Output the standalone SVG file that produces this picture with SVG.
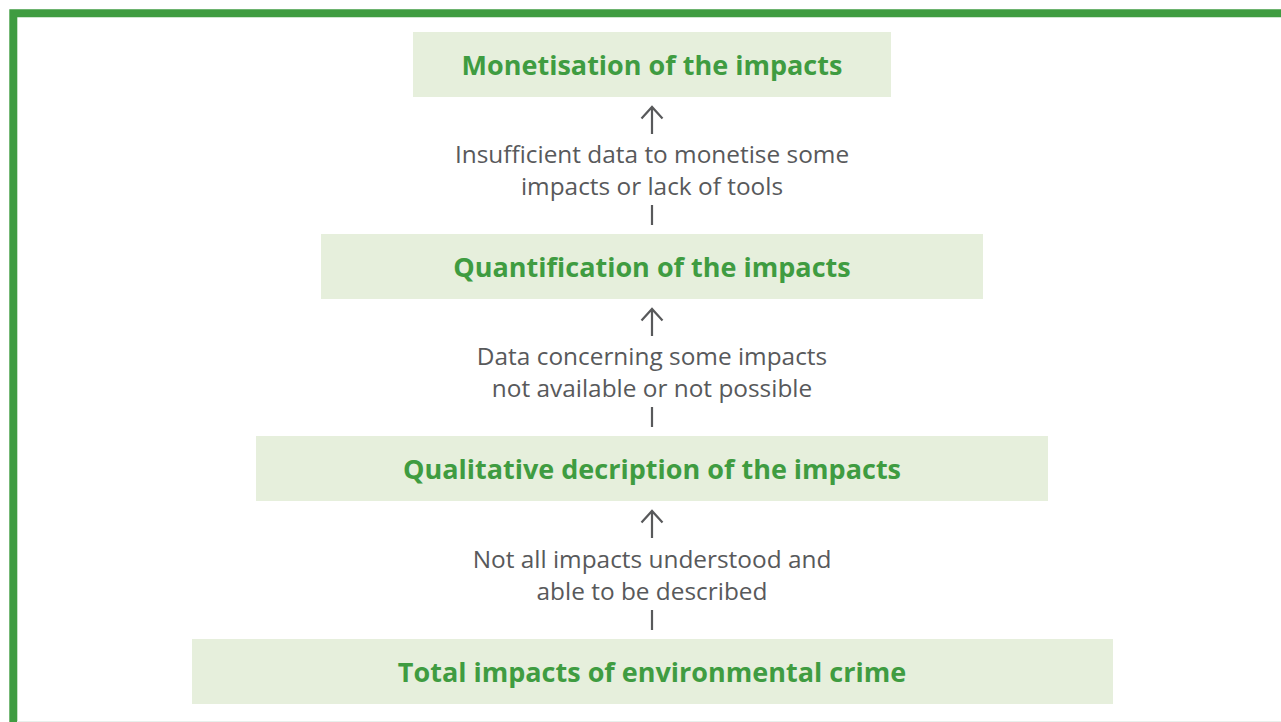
<svg xmlns="http://www.w3.org/2000/svg" width="1281" height="722" viewBox="0 0 1281 722">
<style>
.box{fill:#e6efdc}
.t{font-family:"Open Sans","Noto Sans",sans-serif;font-weight:700;font-size:27px;fill:#3f9c41;text-anchor:middle}
.l{font-family:"Open Sans","Noto Sans",sans-serif;font-size:24.4px;fill:#58595b;text-anchor:middle}
.c{stroke:#58595b;stroke-width:2.2;fill:none}
</style>
<rect x="0" y="0" width="1281" height="722" fill="#ffffff"/>
<path d="M13.3 722 V13.3 H1281" fill="none" stroke="#3f9c41" stroke-width="8"/>
<line x1="17" y1="721.5" x2="1281" y2="721.5" stroke="#e8f0ec" stroke-width="1"/>
<g id="n1"><rect class="box" x="413" y="32" width="478" height="65"/><text class="t" x="652" y="75">Monetisation of the impacts</text></g>
<g id="n2"><rect class="box" x="321" y="234" width="662" height="65"/><text class="t" x="652" y="277">Quantification of the impacts</text></g>
<g id="n3"><rect class="box" x="256" y="436" width="792" height="65"/><text class="t" x="652" y="479">Qualitative decription of the impacts</text></g>
<g id="n4"><rect class="box" x="192" y="639" width="921" height="65"/><text class="t" x="652" y="682">Total impacts of environmental crime</text></g>
<g id="connectors">
<g><path class="c" d="M652 134 V107 M641.5 118.5 L652 107 L662.5 118.5"/><line class="c" x1="652" y1="205" x2="652" y2="225"/>
<text class="l" x="652" y="163">Insufficient data to monetise some</text><text class="l" x="652" y="195">impacts or lack of tools</text></g>
<g><path class="c" d="M652 336 V309 M641.5 320.5 L652 309 L662.5 320.5"/><line class="c" x1="652" y1="407" x2="652" y2="427"/>
<text class="l" x="652" y="365">Data concerning some impacts</text><text class="l" x="652" y="397">not available or not possible</text></g>
<g><path class="c" d="M652 538 V511 M641.5 522.5 L652 511 L662.5 522.5"/><line class="c" x1="652" y1="610" x2="652" y2="630"/>
<text class="l" x="652" y="568">Not all impacts understood and</text><text class="l" x="652" y="600">able to be described</text></g>
</g>
</svg>
